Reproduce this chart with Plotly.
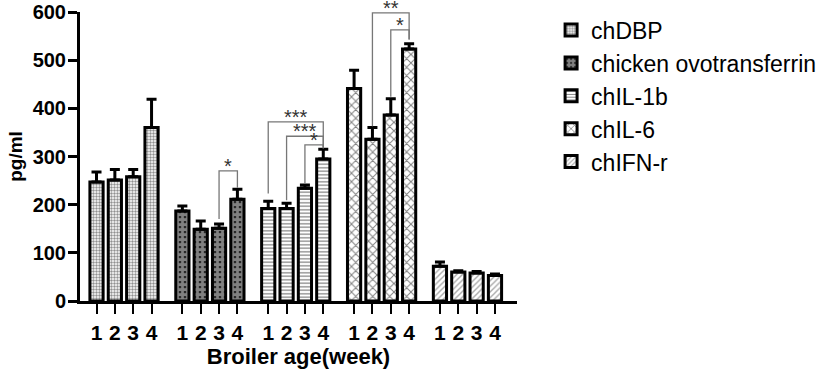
import plotly.graph_objects as go

# ---- data ----
weeks = ["1", "2", "3", "4"]
series = ["chDBP", "chicken ovotransferrin", "chIL-1b", "chIL-6", "chIFN-r"]
chDBP = [247, 251, 258, 360]
chDBP_err = [21, 22, 15, 59]
ovotransferrin = [187, 149, 151, 211]
ovotransferrin_err = [10, 17, 9, 21]
chIL1b = [192, 192, 234, 295]
chIL1b_err = [15, 11, 7, 20]
chIL6 = [441, 336, 386, 523]
chIL6_err = [38, 24, 34, 11]
chIFNr = [72, 60, 58, 53]
chIFNr_err = [9, 3, 3, 3]

values = [chDBP, ovotransferrin, chIL1b, chIL6, chIFNr]
errors = [chDBP_err, ovotransferrin_err, chIL1b_err, chIL6_err, chIFNr_err]

# significance brackets: (group, left week idx, right week idx, line level, left leg end, right leg end, label)
brackets = [
    (1, 2, 3, 270, 170, 235, "*"),
    (2, 0, 3, 372, 223, 317, "***"),
    (2, 1, 3, 342, 209, 317, "***"),
    (2, 2, 3, 324, 244, 317, "*"),
    (3, 1, 3, 598, 363, 543, "**"),
    (3, 2, 3, 563, 424, 543, "*"),
]

# ---- style ----
PERIOD = 4.68
FONT = "Liberation Sans, Arial"
patterns = [
    dict(shape=".", size=3, solidity=0.5, fgcolor="#222222", bgcolor="white"),
    dict(shape=".", size=5, solidity=0.8, fgcolor="white", bgcolor="black"),
    dict(shape="-", size=3.5, solidity=0.35, fgcolor="black", bgcolor="white"),
    dict(shape="x", size=6, solidity=0.3, fgcolor="black", bgcolor="white"),
    dict(shape="/", size=4, solidity=0.35, fgcolor="#555555", bgcolor="white"),
]

def xpos(g, i):
    return g * PERIOD + i

fig = go.Figure()
for g, name in enumerate(series):
    fig.add_trace(go.Bar(
        x=[xpos(g, i) for i in range(4)],
        y=values[g],
        name=name,
        legendgroup=name,
        width=0.72,
        marker=dict(color="white", line=dict(color="black", width=3), pattern=patterns[g]),
        error_y=dict(type="data", array=errors[g], arrayminus=[0] * 4, symmetric=False,
                     color="black", thickness=3, width=5),
    ))

shapes = []
annotations = []
for g, a, b, lvl, le, re, lab in brackets:
    x1, x2 = xpos(g, a), xpos(g, b)
    shapes.append(dict(type="path", xref="x", yref="y",
                       path=f"M {x1},{le} L {x1},{lvl} L {x2},{lvl} L {x2},{re}",
                       line=dict(color="#777777", width=1.3)))
    annotations.append(dict(x=(x1 + x2) / 2, y=lvl, xref="x", yref="y", text=lab,
                            showarrow=False, yanchor="bottom", yshift=-8,
                            font=dict(family=FONT, size=20, color="#333333")))

tickvals = [xpos(g, i) for g in range(5) for i in range(4)]
ticktext = weeks * 5

fig.update_layout(
    width=827, height=375,
    margin=dict(l=80, r=310, t=12, b=74, autoexpand=False),
    paper_bgcolor="white", plot_bgcolor="white",
    barmode="overlay",
    showlegend=True,
    legend=dict(x=1.078, y=1.012, xanchor="left", yanchor="top",
                font=dict(family=FONT, size=23, color="black"),
                tracegroupgap=0, bgcolor="rgba(0,0,0,0)"),
    shapes=shapes,
    annotations=annotations,
    font=dict(family=FONT, color="black"),
)
fig.update_xaxes(
    range=[-0.9, 4 * PERIOD + 3 + 1.2],
    tickvals=tickvals, ticktext=ticktext,
    ticks="outside", ticklen=10, tickwidth=2, tickcolor="black",
    showline=True, linecolor="black", linewidth=3,
    showgrid=False, zeroline=False, automargin=False,
    tickfont=dict(family=FONT, size=21, color="black", weight="bold"),
    ticklabelstandoff=1,
    title=dict(text="<b>Broiler age(week)</b>", standoff=0,
               font=dict(family=FONT, size=22, color="black")),
)
fig.update_yaxes(
    range=[0, 600], tickvals=[0, 100, 200, 300, 400, 500, 600],
    ticks="outside", ticklen=9, tickwidth=3, tickcolor="black",
    showline=True, linecolor="black", linewidth=3,
    showgrid=False, zeroline=False, automargin=False,
    tickfont=dict(family=FONT, size=20, color="black", weight="bold"),
    ticklabelstandoff=-2,
    title=dict(text="<b>pg/ml</b>", standoff=5,
               font=dict(family=FONT, size=19, color="black")),
)

fig.write_html("out.html", config={"displayModeBar": False},
               post_script="document.body.style.margin='0';")
